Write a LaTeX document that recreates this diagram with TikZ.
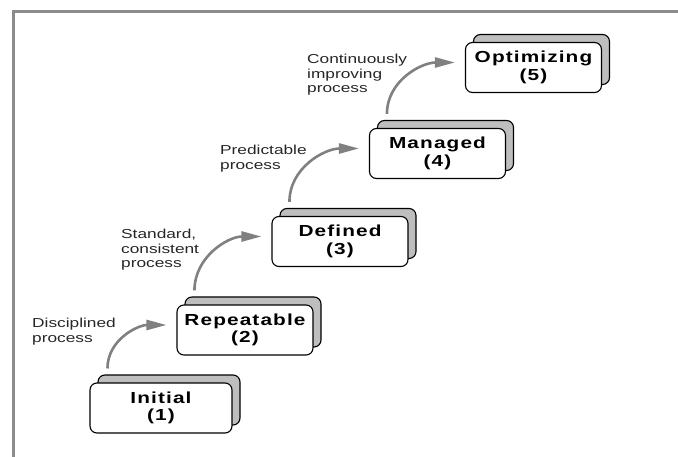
\documentclass[tikz,border=0pt]{standalone}
\usepackage{fontspec}
\usetikzlibrary{positioning, arrows.meta, calc, shadows}
\newfontfamily\levelfont[FakeStretch=1.3, LetterSpace=7]{Liberation Sans}
\newfontfamily\notefont[FakeStretch=1.33]{Liberation Sans}
\definecolor{rimgray}{RGB}{140,140,140}
\definecolor{climbgray}{RGB}{128,128,128}
\definecolor{backgray}{RGB}{190,190,190}

\begin{document}
\begin{tikzpicture}[x=1pt, y=-1pt,
          level/.style={draw, line width=1.1pt, rounded corners=7pt, fill=white, minimum width=136pt, minimum height=50pt, align=center,
            font=\levelfont\bfseries\fontsize{16}{17.5}\selectfont, execute at begin node={\rule{0pt}{19pt}},
            copy shadow={shadow xshift=8pt, shadow yshift=8pt, fill=backgray, draw=black, line width=1.1pt}},
          note/.style={align=left, anchor=north west, inner sep=0pt, text=black!85, font=\notefont\fontsize{13}{14.5}\selectfont},
          climb/.style={line width=2.6pt, climbgray, -{Triangle[length=20pt, width=10pt]}}]
        \useasboundingbox (0,0) rectangle (678,457);
        \draw[rimgray, line width=3pt] (13,457) -- (13,12) -- (678,12);
        % maturity levels
        \node[level, minimum width=142pt] (initial) at (161,408) {Initial\\(1)};
        \node[level] (repeatable) at (245,330)   {Repeatable\\(2)};
        \node[level] (defined)    at (340,241.5) {Defined\\(3)};
        \node[level] (managed)    at (437.5,153.5) {Managed\\(4)};
        \node[level] (optimizing) at (533.5,67.5) {Optimizing\\(5)};
        % process notes
        \node[note] (disciplined) at (32,318)  {Disciplined\\process};
        \node[note] (standard)    at (121,229) {Standard,\\consistent\\process};
        \node[note] (predictable) at (220,145) {Predictable\\process};
        \node[note] (continuous)  at (307,54)  {Continuously\\improving\\process};
        \foreach \lo/\hi in {initial/repeatable, repeatable/defined, defined/managed, managed/optimizing}
          \draw[climb] ($(\lo.north west)+(18pt,14pt)$) to[out=90, in=180] ($(\hi.west)+(-10pt,5pt)$);
      \end{tikzpicture}
\end{document}
